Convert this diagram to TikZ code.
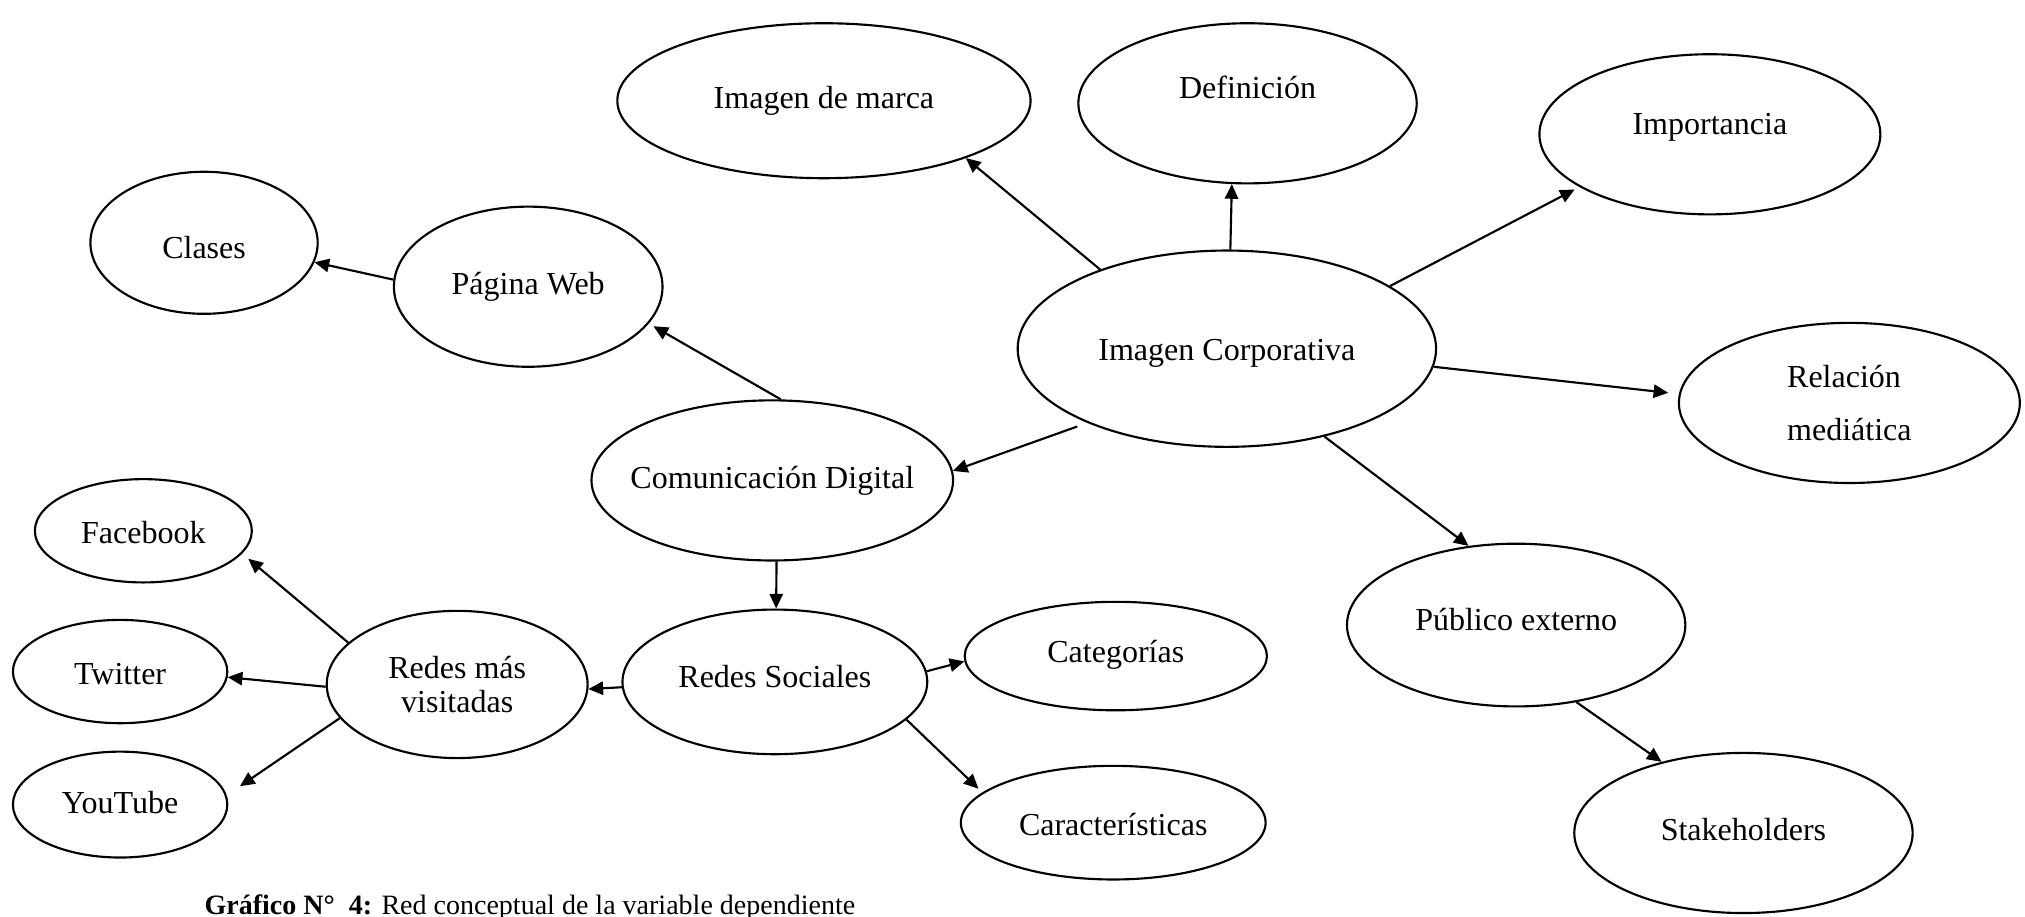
\documentclass[tikz,border=0pt]{standalone}
\usepackage{fontspec}
\setmainfont{Liberation Serif}
\usetikzlibrary{shapes.geometric,arrows.meta}
\begin{document}
\begin{tikzpicture}[x=0.484pt,y=-0.484pt,
  v/.style={ellipse,draw,line width=0.8pt,inner sep=0pt,text height=8.5pt,text depth=2.5pt,font=\fontsize{12}{13}\selectfont},
  sz/.style 2 args={minimum width=#1*0.484pt,minimum height=#2*0.484pt},
  e/.style={line width=0.8pt,-{Triangle[length=5.5pt,width=5pt]}}]
\useasboundingbox (0,0) rectangle (1568,710);
% nodos
\node[v,sz={324}{152},text height=11.4pt] (ic) at (950,270) {Imagen Corporativa};
\node[v,sz={320}{120}] (marca) at (638,78) {Imagen de marca};
\node[v,sz={262}{124},text depth=12.2pt] (def) at (966,80) {Definición};
\node[v,sz={264}{124},text depth=8.3pt] (imp) at (1324,104) {Importancia};
\node[v,sz={264}{124},align=left,text height=,text depth=] (rel) at (1432,312) {Relación\\[7pt]mediática};
\node[v,sz={262}{126},text depth=4.4pt] (pub) at (1174,484) {Público externo};
\node[v,sz={262}{124}] (stk) at (1350,645) {Stakeholders};
\node[v,sz={280}{124},inner xsep=-14pt] (cd) at (598,372) {Comunicación Digital};
\node[v,sz={208}{124}] (pw) at (409,222) {Página Web};
\node[v,sz={176}{110},text height=14.3pt] (clases) at (158,188) {Clases};
\node[v,sz={236}{112},text depth=4.4pt] (rs) at (600,528) {Redes Sociales};
\node[v,sz={234}{84},text depth=3.5pt] (cat) at (864,508) {Categorías};
\node[v,sz={236}{88},text height=12.4pt] (car) at (862,637) {Características};
\node[v,sz={202}{114},align=center,text height=,text depth=] (rmv) at (354,530) {Redes más\\visitadas};
\node[v,sz={168}{80},text height=12.4pt] (fb) at (111,411) {Facebook};
\node[v,sz={166}{80},text height=12.4pt] (tw) at (93,520) {Twitter};
\node[v,sz={166}{82},text height=9.5pt] (yt) at (93,623) {YouTube};
% flechas
\draw[e] (ic.148) -- (marca.-22);
\draw[e] (ic.88) -- (def.-101);
\draw[e,shorten >=2pt] (ic.21) -- (imp.202);
\draw[e,shorten >=4pt] (ic.-5) -- (rel.177);
\draw[e] (ic.-42) -- (pub.121);
\draw[e,shorten <=4pt] (ic.208) -- (cd.3);
\draw[e,shorten >=2pt] (cd.84) -- (pw.-17);
\draw[e] (pw.177) -- (clases.-10);
\draw[e] (cd.-87) -- (rs.89);
\draw[e] (rs.182) -- (rmv.-2);
\draw[e,shorten >=3pt] (rmv.159) -- (fb.-13);
\draw[e] (rmv.181) -- (tw.-3);
\draw[e,shorten >=6pt] (rmv.196) -- (yt.5);
\draw[e] (rs.4) -- (cat.182);
\draw[e,shorten >=2pt] (rs.-16) -- (car.167);
\draw[e] (pub.-52) -- (stk.139);
% leyenda
\node[anchor=base west,inner sep=0pt,font=\fontsize{10.5}{12}\selectfont] (cap) at (158,708)
  {\textbf{Gráfico N°\ \ 4:} Red conceptual de la variable dependiente};
\end{tikzpicture}
\end{document}
